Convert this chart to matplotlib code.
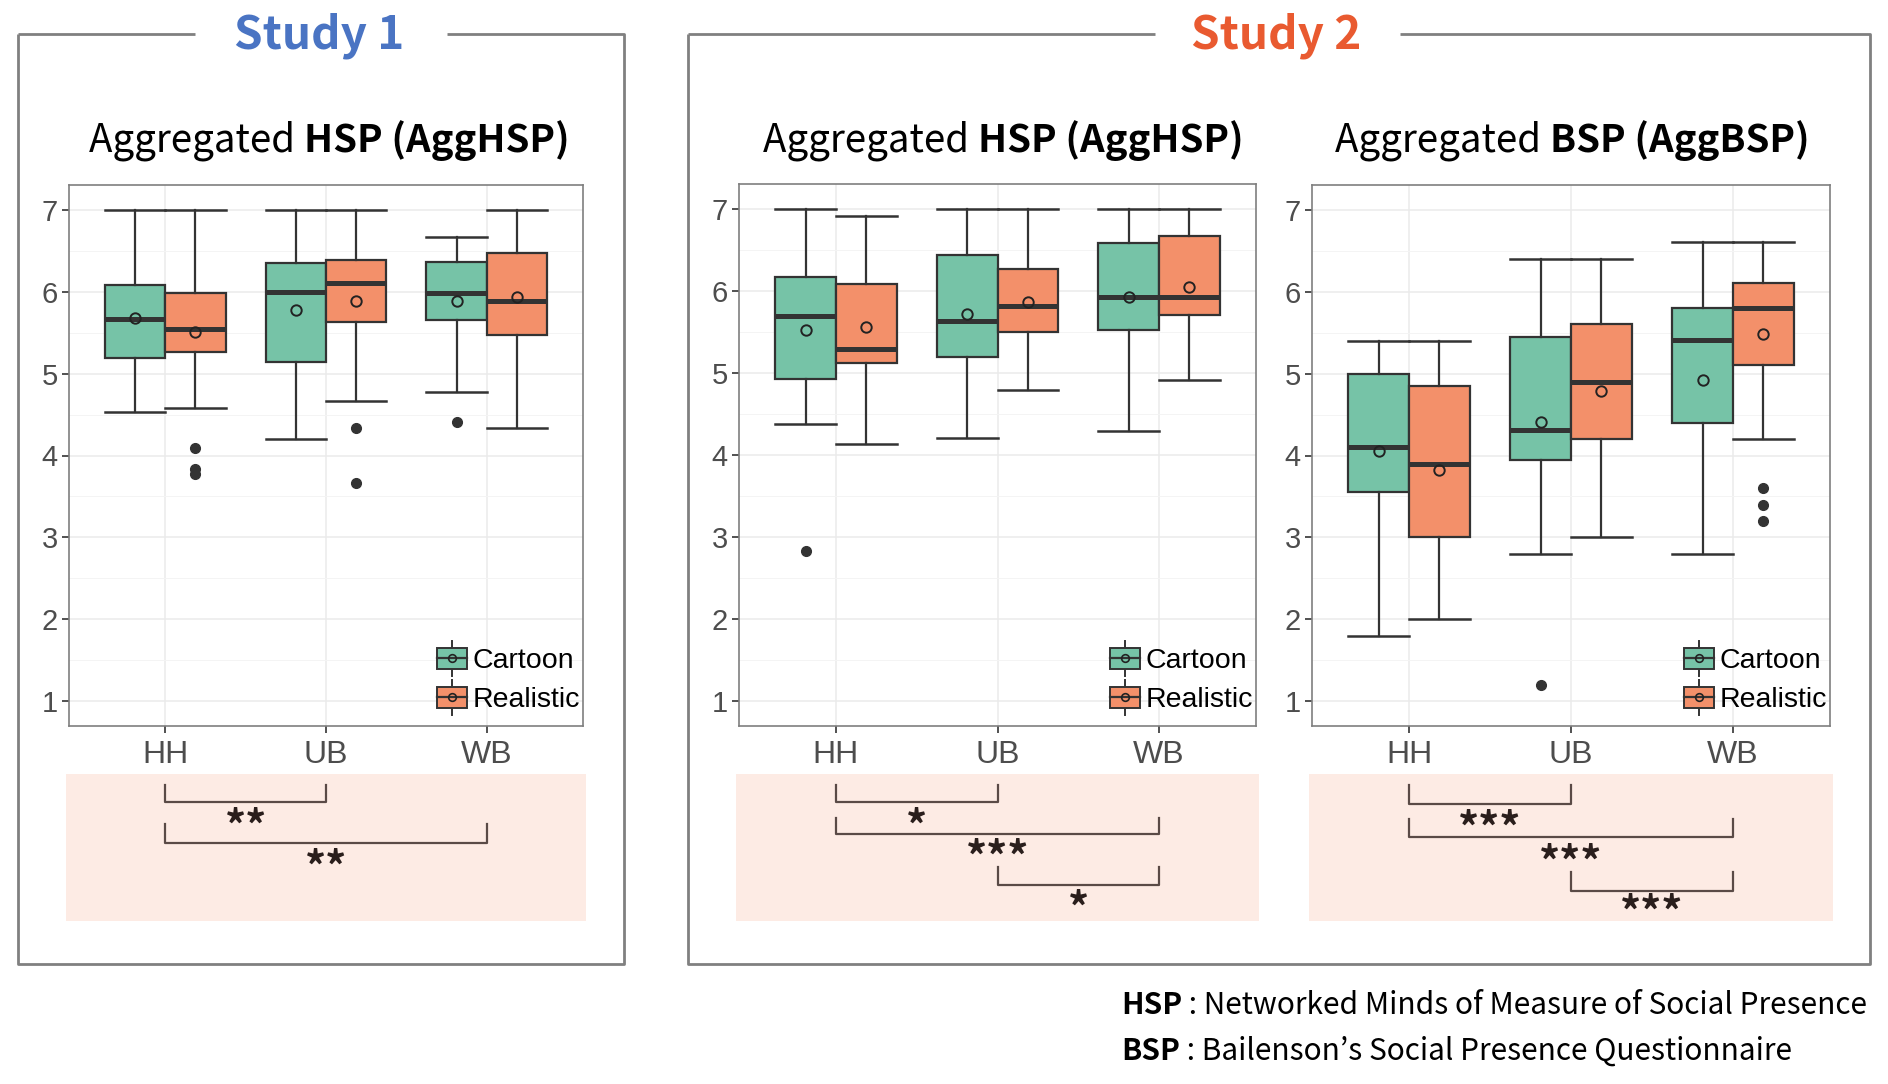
import matplotlib
matplotlib.use("Agg")
import matplotlib.pyplot as plt
from matplotlib.patches import Patch, Rectangle
from matplotlib.lines import Line2D
from matplotlib.legend_handler import HandlerBase
import numpy as np

# ---------------- data ----------------
categories = ["HH", "UB", "WB"]
groups = ["Cartoon", "Realistic"]

# each entry: [lower whisker, Q1, median, Q3, upper whisker, mean]
s1_hsp_cartoon   = [[4.53, 5.19, 5.67, 6.08, 7.00, 5.68],
                    [4.20, 5.14, 6.00, 6.35, 7.00, 5.78],
                    [4.78, 5.65, 5.98, 6.36, 6.67, 5.88]]
s1_hsp_realistic = [[4.58, 5.26, 5.54, 5.98, 7.00, 5.51],
                    [4.66, 5.63, 6.10, 6.39, 7.00, 5.89],
                    [4.33, 5.47, 5.89, 6.47, 7.00, 5.93]]
s1_hsp_out_cartoon   = [[], [], [4.41]]
s1_hsp_out_realistic = [[4.09, 3.83, 3.78], [4.33, 3.66], []]

s2_hsp_cartoon   = [[4.38, 4.93, 5.69, 6.17, 7.00, 5.52],
                    [4.21, 5.19, 5.63, 6.43, 7.00, 5.72],
                    [4.29, 5.52, 5.92, 6.58, 7.00, 5.93]]
s2_hsp_realistic = [[4.13, 5.12, 5.29, 6.08, 6.91, 5.56],
                    [4.79, 5.50, 5.82, 6.27, 7.00, 5.86],
                    [4.91, 5.71, 5.92, 6.67, 7.00, 6.05]]
s2_hsp_out_cartoon   = [[2.83], [], []]
s2_hsp_out_realistic = [[], [], []]

s2_bsp_cartoon   = [[1.80, 3.56, 4.10, 5.00, 5.40, 4.06],
                    [2.80, 3.95, 4.31, 5.44, 6.40, 4.41],
                    [2.80, 4.40, 5.41, 5.80, 6.60, 4.92]]
s2_bsp_realistic = [[2.00, 3.00, 3.90, 4.85, 5.40, 3.82],
                    [3.00, 4.20, 4.90, 5.60, 6.40, 4.79],
                    [4.20, 5.10, 5.80, 6.10, 6.60, 5.48]]
s2_bsp_out_cartoon   = [[], [1.20], []]
s2_bsp_out_realistic = [[], [], [3.60, 3.40, 3.20]]

panel_titles = [("Aggregated ", "HSP (AggHSP)"),
                ("Aggregated ", "HSP (AggHSP)"),
                ("Aggregated ", "BSP (AggBSP)")]

# significance comparisons: (from category, to category, label)
s1_hsp_sig = [("HH", "UB", "**"), ("HH", "WB", "**")]
s2_hsp_sig = [("HH", "UB", "*"), ("HH", "WB", "***"), ("UB", "WB", "*")]
s2_bsp_sig = [("HH", "UB", "***"), ("HH", "WB", "***"), ("UB", "WB", "***")]

yticks = [1, 2, 3, 4, 5, 6, 7]

# ---------------- style ----------------
W, H = 1888, 1084
C_CART = "#76C3A7"
C_REAL = "#F3906A"
EDGE = "#333333"
TICKFONT = "Liberation Sans"
TITLEFONT = ["Noto Sans CJK KR", "DejaVu Sans"]

fig = plt.figure(figsize=(W / 100, H / 100), dpi=100)
fig.patch.set_facecolor("white")


def px_rect(x0, y0, x1, y1):
    return [x0 / W, 1 - y1 / H, (x1 - x0) / W, (y1 - y0) / H]


class BoxKeyHandler(HandlerBase):
    def create_artists(self, legend, orig_handle, xdescent, ydescent,
                       width, height, fontsize, trans):
        col = orig_handle.get_facecolor()
        bx0, bx1 = -xdescent, -xdescent + width
        by0 = -ydescent
        by1 = -ydescent + height
        ym = (by0 + by1) / 2
        xm = (bx0 + bx1) / 2
        ext = height * 0.35
        arts = [
            Line2D([xm, xm], [by1, by1 + ext], color=EDGE, lw=1.4),
            Line2D([xm, xm], [by0 - ext, by0], color=EDGE, lw=1.4),
            Rectangle((bx0, by0), width, by1 - by0, facecolor=col,
                      edgecolor=EDGE, lw=1.4),
            Line2D([bx0, bx1], [ym, ym], color=EDGE, lw=1.6),
            Line2D([xm], [ym], marker="o", markerfacecolor="none",
                   markeredgecolor="#222222", markersize=5.5,
                   markeredgewidth=1.2),
        ]
        for a in arts:
            a.set_transform(trans)
        return arts


# frames for studies
def frame(x0, y0, x1, y1, gap0, gap1, label, color, lx):
    ax = fig.add_axes([0, 0, 1, 1], zorder=-5)
    ax.set_xlim(0, W)
    ax.set_ylim(H, 0)
    ax.axis("off")
    kw = dict(color="#808080", lw=2.0, solid_capstyle="butt")
    ax.plot([x0, x0, x1, x1, gap1], [y0, y1, y1, y0, y0], **kw)
    ax.plot([gap0, x0], [y0, y0], **kw)
    ax.text(lx, y0 + 2, label, ha="center", va="center", fontsize=33,
            fontweight="bold", color=color, family=TITLEFONT)


frame(18, 34, 624, 964, 195, 447, "Study 1", "#4A74C3", 319)
frame(688, 34, 1870, 964, 1155, 1400, "Study 2", "#E95A30", 1276)

panels = [
    dict(rect=(69, 185, 583, 726), c=s1_hsp_cartoon, r=s1_hsp_realistic,
         oc=s1_hsp_out_cartoon, orr=s1_hsp_out_realistic, sig=s1_hsp_sig,
         title=panel_titles[0], tx=329,
         sig_rows=[(785, 802, 819), (824, 843, 860)]),
    dict(rect=(739, 184, 1256, 726), c=s2_hsp_cartoon, r=s2_hsp_realistic,
         oc=s2_hsp_out_cartoon, orr=s2_hsp_out_realistic, sig=s2_hsp_sig,
         title=panel_titles[1], tx=1003,
         sig_rows=[(785, 802, 819), (818, 834, 850), (867, 885, 901)]),
    dict(rect=(1312, 185, 1830, 726), c=s2_bsp_cartoon, r=s2_bsp_realistic,
         oc=s2_bsp_out_cartoon, orr=s2_bsp_out_realistic, sig=s2_bsp_sig,
         title=panel_titles[2], tx=1572,
         sig_rows=[(785, 804, 821), (819, 837, 855), (872, 891, 905)]),
]

pos = np.arange(1, len(categories) + 1)
bw = 0.375
TFS = 27.7


def stats_of(vals, outs, labels):
    out = []
    for v, o, lab in zip(vals, outs, labels):
        out.append(dict(whislo=v[0], q1=v[1], med=v[2], q3=v[3], whishi=v[4],
                        mean=v[5], fliers=o, label=lab))
    return out


r = fig.canvas.get_renderer()

for p in panels:
    x0, y0, x1, y1 = p["rect"]
    ax = fig.add_axes(px_rect(x0, y0, x1, y1))
    ax.set_xlim(0.4, 3.6)
    ax.set_ylim(0.7, 7.3)
    ax.set_yticks(yticks)
    ax.set_yticks(np.arange(1.5, 7.0, 1.0), minor=True)
    ax.set_xticks(pos)
    ax.set_xticklabels(categories)
    ax.grid(which="major", color="#EBEBEB", lw=1.1, zorder=0)
    ax.grid(which="minor", axis="y", color="#F4F4F4", lw=0.7, zorder=0)
    ax.set_axisbelow(True)
    for s in ax.spines.values():
        s.set_color("#7F7F7F")
        s.set_linewidth(1.2)
    ax.tick_params(axis="both", which="major", colors="#333333", length=5,
                   width=1.2, labelcolor="#4D4D4D")
    ax.tick_params(axis="y", labelsize=21, pad=3)
    ax.tick_params(axis="x", labelsize=23, pad=5)
    ax.tick_params(which="minor", length=0)
    for lab in ax.get_xticklabels() + ax.get_yticklabels():
        lab.set_family(TICKFONT)

    for vals, outs, col, off in [(p["c"], p["oc"], C_CART, -bw / 2),
                                 (p["r"], p["orr"], C_REAL, bw / 2)]:
        st = stats_of(vals, outs, categories)
        ax.bxp(st, positions=pos + off, widths=bw, patch_artist=True,
               showmeans=True, showcaps=True, capwidths=bw,
               boxprops=dict(facecolor=col, edgecolor=EDGE, lw=1.6),
               medianprops=dict(color=EDGE, lw=3.6, solid_capstyle="butt"),
               whiskerprops=dict(color=EDGE, lw=1.6),
               capprops=dict(color=EDGE, lw=1.8),
               meanprops=dict(marker="o", markerfacecolor="none",
                              markeredgecolor="#222222", markersize=7.5,
                              markeredgewidth=1.4),
               flierprops=dict(marker="o", markerfacecolor="#333333",
                               markeredgecolor="#333333", markersize=7),
               manage_ticks=False, zorder=3)

    handles = [Patch(facecolor=C_CART), Patch(facecolor=C_REAL)]
    ax.legend(handles, groups, loc="lower right", frameon=False,
              bbox_to_anchor=(1.0, 0.018),
              handler_map={Patch: BoxKeyHandler()},
              prop=dict(family=TICKFONT, size=20.5), handlelength=1.05,
              handleheight=0.75, handletextpad=0.2, labelspacing=0.45,
              borderaxespad=0.0, borderpad=0.1)

    # title
    t1, t2 = p["title"]
    ta = fig.text(0, 0, t1, fontsize=TFS, family=TITLEFONT)
    w1 = ta.get_window_extent(r).width
    ta.remove()
    tb = fig.text(0, 0, t2, fontsize=TFS, family=TITLEFONT, fontweight="bold")
    w2 = tb.get_window_extent(r).width
    tb.remove()
    sx = p["tx"] - (w1 + w2) / 2
    fig.text(sx / W, 1 - 141 / H, t1, fontsize=TFS, family=TITLEFONT,
             va="center", ha="left")
    fig.text((sx + w1) / W, 1 - 141 / H, t2, fontsize=TFS, family=TITLEFONT,
             fontweight="bold", va="center", ha="left")

    # significance area
    sax = fig.add_axes(px_rect(x0 - 3, 774, x1 + 3, 921), zorder=-1)
    sax.set_facecolor("#FDEBE4")
    pad = 3 / ((x1 - x0) / 3.2)
    sax.set_xlim(0.4 - pad, 3.6 + pad)
    sax.set_ylim(921, 774)
    for s in sax.spines.values():
        s.set_visible(False)
    sax.set_xticks([])
    sax.set_yticks([])
    for (a, b, lab), (ytop, ybot, ystar) in zip(p["sig"], p["sig_rows"]):
        xa = pos[categories.index(a)]
        xb = pos[categories.index(b)]
        sax.plot([xa, xa, xb, xb], [ytop, ybot, ybot, ytop], color="#5A4A46",
                 lw=1.6)
        sax.text((xa + xb) / 2, ystar + 9, lab, ha="center", va="center",
                 fontsize=30, color="#2A1E1C", family=TITLEFONT,
                 fontweight="bold")

# footnote
fy = [1005, 1051]
notes = [("HSP", " : Networked Minds of Measure of Social Presence"),
         ("BSP", " : Bailenson\u2019s Social Presence Questionnaire")]
for (b, rest), yy in zip(notes, fy):
    tb = fig.text(1121 / W, 1 - yy / H, b, fontsize=21.5, family=TITLEFONT,
                  fontweight="bold", va="center", ha="left")
    wb = tb.get_window_extent(r).width
    fig.text((1121 + wb) / W, 1 - yy / H, rest, fontsize=21.5,
             family=TITLEFONT, va="center", ha="left")

fig.savefig("out.png", dpi=100, facecolor="white")
